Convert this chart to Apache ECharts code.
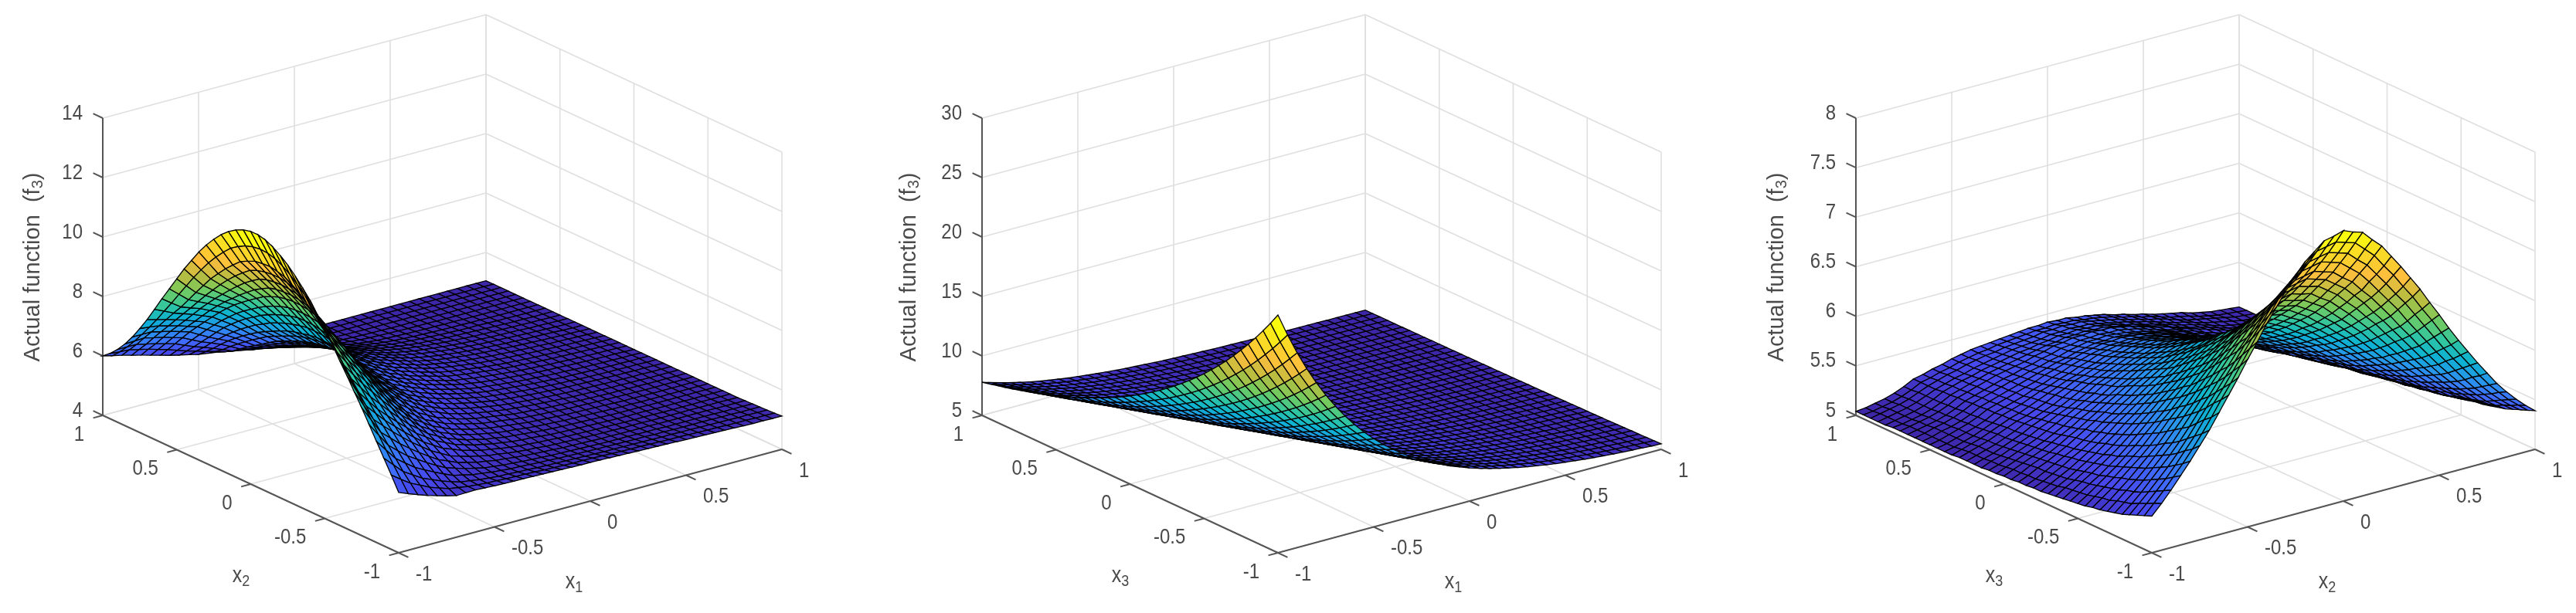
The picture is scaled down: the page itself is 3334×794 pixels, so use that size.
<!DOCTYPE html>
<html>
<head>
<meta charset="utf-8">
<style>html,body{margin:0;background:#fff}#main{width:3334px;height:794px;filter:blur(0.6px)}</style>
<script src="https://cdn.jsdelivr.net/npm/echarts@6/dist/echarts.min.js"></script>
</head>
<body>
<div id="main"></div>
<script>
// surface heights, in hundredths of f3
// rows = horizontal axis -1..1 step 0.05, columns = depth axis -1..1 step 0.05
const surfaceA = [
[603,650,695,740,785,830,872,915,955,998,1038,1075,1112,1142,1170,1195,1215,1232,1244,1250,1250,1244,1232,1215,1193,1166,1135,1100,1060,1020,975,930,885,838,792,750,710,675,645,620,600],
[590,627,664,702,741,780,817,855,892,931,968,1003,1038,1068,1097,1121,1143,1160,1173,1180,1182,1178,1170,1156,1139,1114,1086,1055,1020,983,943,903,862,823,783,746,710,676,645,617,592],
[578,605,633,665,698,730,762,796,830,864,898,932,965,995,1024,1048,1072,1088,1103,1110,1115,1113,1109,1098,1085,1062,1038,1010,981,947,912,876,840,808,775,742,710,678,645,615,585],
[567,590,613,641,671,702,732,762,792,825,857,889,920,948,975,999,1022,1040,1056,1064,1068,1068,1065,1058,1047,1027,1005,980,953,923,893,861,828,797,765,733,702,670,637,607,576],
[557,574,593,618,645,674,703,729,755,786,817,846,874,900,926,950,973,992,1009,1018,1022,1024,1022,1018,1009,992,973,950,926,900,874,846,817,786,755,725,695,663,630,600,568],
[548,563,580,601,625,650,676,701,725,753,781,808,835,860,884,907,928,946,963,972,978,981,980,977,970,956,941,921,900,877,854,829,802,773,743,714,685,653,621,590,559],
[540,552,566,585,605,627,650,673,696,720,745,770,796,820,843,864,883,900,917,927,935,938,939,936,931,921,909,892,874,855,835,812,787,760,732,704,675,644,612,581,550],
[541,547,555,570,587,606,627,647,668,689,711,733,756,778,799,819,837,852,867,877,885,889,891,890,887,879,869,856,841,824,806,786,763,739,713,686,657,628,598,570,541],
[542,542,545,556,570,586,604,622,640,659,678,697,716,736,755,774,791,805,818,828,835,840,844,845,844,838,830,820,808,794,777,760,740,718,695,668,640,613,585,559,533],
[540,539,541,549,560,573,587,603,619,635,651,667,683,701,718,735,750,763,774,785,793,797,801,802,802,797,790,782,772,760,745,730,712,693,672,650,625,600,574,550,526],
[538,536,536,541,550,559,570,584,597,610,623,636,650,665,681,695,709,720,730,741,750,754,757,759,760,756,750,744,736,725,712,699,685,668,650,631,610,587,562,540,518],
[537,535,533,537,543,551,560,572,583,593,604,616,628,641,655,667,680,689,698,707,715,721,725,728,730,727,723,717,709,699,687,675,662,645,628,610,591,571,549,531,513],
[536,533,530,532,535,542,550,559,568,576,585,595,605,617,628,639,650,658,665,673,680,687,693,697,700,698,695,689,682,673,662,650,638,622,605,589,572,554,535,521,508],
[536,532,529,529,531,537,543,551,558,565,573,581,590,600,610,620,629,636,643,650,656,663,669,673,676,676,675,670,664,656,646,635,623,609,594,578,562,546,529,517,507],
[535,531,527,526,527,531,536,542,548,554,560,567,575,583,592,600,608,614,620,626,632,638,644,648,652,654,655,650,645,638,630,619,608,595,582,567,552,537,522,513,505],
[534,530,526,525,525,528,532,537,542,547,552,558,565,572,580,587,594,600,606,612,617,622,627,631,635,636,637,634,630,623,615,606,595,584,571,558,544,530,517,511,505],
[533,528,524,523,522,524,527,531,535,539,544,549,555,561,567,573,580,586,592,597,602,606,610,614,617,618,619,617,614,608,600,592,582,572,560,548,535,523,512,508,505],
[532,527,523,521,520,521,523,526,530,534,538,543,548,553,558,564,570,575,581,586,590,594,598,601,604,605,605,604,601,596,589,581,572,562,551,540,528,519,510,507,505],
[531,526,522,520,518,519,520,522,525,528,532,536,540,545,550,555,560,565,570,574,578,582,585,588,590,591,592,590,588,583,578,571,563,553,543,533,522,515,508,506,505],
[530,525,521,518,516,517,518,520,522,525,528,532,536,540,544,548,553,557,561,565,569,572,575,578,580,581,582,580,578,574,569,562,555,546,536,527,518,512,507,505,505],
[530,525,520,517,515,515,515,517,520,522,525,528,532,535,538,542,546,549,553,556,560,563,566,568,570,571,572,570,568,564,560,554,547,539,530,522,515,510,506,505,505],
[529,524,519,516,514,513,513,515,517,519,521,524,527,530,533,536,540,543,546,549,552,554,557,559,561,561,562,561,559,555,552,546,540,533,525,518,512,508,505,505,505],
[528,523,518,515,513,512,512,513,514,516,518,520,523,525,528,531,534,536,539,541,544,546,548,550,552,552,553,552,550,547,544,539,533,527,520,515,510,507,505,505,505],
[527,522,517,514,512,511,511,511,512,514,516,518,520,522,525,527,530,532,534,536,539,541,543,544,546,546,546,545,544,541,538,533,528,522,516,512,508,506,505,505,505],
[526,521,517,514,511,510,510,510,511,512,514,516,518,520,522,524,526,528,530,532,534,536,538,539,540,540,540,539,538,535,532,528,523,518,513,510,507,506,505,505,505],
[525,520,516,513,510,509,509,509,510,511,512,514,516,517,519,521,523,525,527,528,530,532,534,535,535,535,535,534,533,531,528,524,520,515,511,509,506,505,505,505,505],
[524,520,516,513,510,509,508,508,509,510,511,512,514,515,517,518,520,522,524,525,527,528,530,530,531,531,531,530,529,527,524,520,517,513,510,508,506,505,505,505,505],
[523,519,515,512,510,508,508,508,508,509,510,511,512,513,515,516,518,519,521,522,524,525,526,526,527,527,527,526,525,523,521,518,515,511,509,507,505,505,505,505,505],
[522,518,515,512,509,508,507,507,507,508,509,510,511,512,513,514,516,517,518,519,521,522,523,523,524,524,524,523,522,520,518,515,513,510,508,506,505,505,505,505,505],
[521,517,514,511,509,508,507,506,506,507,508,509,510,510,511,512,514,515,516,517,518,519,520,520,521,521,521,520,519,517,516,513,511,509,507,506,505,505,505,505,505],
[520,517,514,511,509,508,507,506,506,506,507,508,509,509,510,511,512,513,514,515,516,517,518,518,519,519,519,518,517,515,514,512,510,508,507,506,505,505,505,505,505],
[519,516,513,510,508,507,506,506,506,506,506,507,508,508,509,510,511,512,512,513,514,515,516,516,517,517,517,516,515,514,512,511,509,507,506,505,505,505,505,505,505],
[518,515,513,510,508,507,506,506,506,506,506,506,507,507,508,509,510,510,511,512,513,513,514,514,515,515,515,514,514,512,511,510,508,507,506,505,505,505,505,505,505],
[517,514,512,510,508,507,506,505,505,505,505,506,506,507,507,508,509,509,510,510,511,512,512,513,513,513,513,513,512,511,510,509,508,506,505,505,505,505,505,505,505],
[516,514,512,510,508,507,506,505,505,505,505,505,506,506,507,507,508,508,509,509,510,510,511,511,512,512,512,511,511,510,509,508,507,506,505,505,505,505,505,505,505],
[515,513,511,510,508,507,506,505,505,505,505,505,505,506,506,507,507,507,508,508,509,509,510,510,510,510,510,510,509,509,508,507,506,505,505,505,505,505,505,505,505],
[514,512,511,509,508,507,506,505,505,505,505,505,505,505,506,506,507,507,507,507,508,508,509,509,509,509,509,509,508,507,507,506,506,505,505,505,505,505,505,505,505],
[513,512,510,509,507,506,506,505,505,505,505,505,505,505,505,506,506,506,507,507,507,507,508,508,508,508,508,508,507,507,506,506,505,505,505,505,505,505,505,505,505],
[513,511,510,508,507,506,506,505,505,505,505,505,505,505,505,505,506,506,506,506,507,507,507,507,507,507,507,506,506,506,506,505,505,505,505,505,505,505,505,505,505],
[512,511,509,508,507,506,505,505,505,505,505,505,505,505,505,505,505,505,506,506,506,506,506,506,506,506,506,505,505,505,505,505,505,505,505,505,505,505,505,505,505],
[512,510,509,508,507,506,505,505,505,505,505,505,505,505,505,505,505,505,505,505,505,505,505,505,505,505,505,505,505,505,505,505,505,505,505,505,505,505,505,505,505]
];
const surfaceB = [
[2500,2403,2311,2223,2139,2060,1984,1912,1844,1779,1717,1658,1602,1549,1498,1450,1404,1361,1319,1280,1242,1206,1172,1140,1109,1080,1052,1026,1001,977,954,932,912,892,874,856,839,823,808,793,779],
[2311,2223,2139,2060,1984,1912,1844,1779,1717,1658,1602,1549,1498,1450,1404,1361,1319,1280,1242,1206,1172,1140,1109,1080,1052,1026,1001,977,954,932,912,892,874,856,839,823,808,793,779,766,754],
[2139,2060,1984,1912,1844,1779,1717,1658,1602,1549,1498,1450,1404,1361,1319,1280,1242,1206,1172,1140,1109,1080,1052,1026,1001,977,954,932,912,892,874,856,839,823,808,793,779,766,754,742,731],
[1984,1912,1844,1779,1717,1658,1602,1549,1498,1450,1404,1361,1319,1280,1242,1206,1172,1140,1109,1080,1052,1026,1001,977,954,932,912,892,874,856,839,823,808,793,779,766,754,742,731,720,710],
[1844,1779,1717,1658,1602,1549,1498,1450,1404,1361,1319,1280,1242,1206,1172,1140,1109,1080,1052,1026,1001,977,954,932,912,892,874,856,839,823,808,793,779,766,754,742,731,720,710,700,691],
[1717,1658,1602,1549,1498,1450,1404,1361,1319,1280,1242,1206,1172,1140,1109,1080,1052,1026,1001,977,954,932,912,892,874,856,839,823,808,793,779,766,754,742,731,720,710,700,691,682,673],
[1602,1549,1498,1450,1404,1361,1319,1280,1242,1206,1172,1140,1109,1080,1052,1026,1001,977,954,932,912,892,874,856,839,823,808,793,779,766,754,742,731,720,710,700,691,682,673,665,658],
[1498,1450,1404,1361,1319,1280,1242,1206,1172,1140,1109,1080,1052,1026,1001,977,954,932,912,892,874,856,839,823,808,793,779,766,754,742,731,720,710,700,691,682,673,665,658,651,644],
[1404,1361,1319,1280,1242,1206,1172,1140,1109,1080,1052,1026,1001,977,954,932,912,892,874,856,839,823,808,793,779,766,754,742,731,720,710,700,691,682,673,665,658,651,644,637,631],
[1319,1280,1242,1206,1172,1140,1109,1080,1052,1026,1001,977,954,932,912,892,874,856,839,823,808,793,779,766,754,742,731,720,710,700,691,682,673,665,658,651,644,637,631,625,619],
[1242,1206,1172,1140,1109,1080,1052,1026,1001,977,954,932,912,892,874,856,839,823,808,793,779,766,754,742,731,720,710,700,691,682,673,665,658,651,644,637,631,625,619,614,609],
[1172,1140,1109,1080,1052,1026,1001,977,954,932,912,892,874,856,839,823,808,793,779,766,754,742,731,720,710,700,691,682,673,665,658,651,644,637,631,625,619,614,609,604,600],
[1109,1080,1052,1026,1001,977,954,932,912,892,874,856,839,823,808,793,779,766,754,742,731,720,710,700,691,682,673,665,658,651,644,637,631,625,619,614,609,604,600,595,591],
[1052,1026,1001,977,954,932,912,892,874,856,839,823,808,793,779,766,754,742,731,720,710,700,691,682,673,665,658,651,644,637,631,625,619,614,609,604,600,595,591,587,583],
[1001,977,954,932,912,892,874,856,839,823,808,793,779,766,754,742,731,720,710,700,691,682,673,665,658,651,644,637,631,625,619,614,609,604,600,595,591,587,583,579,576],
[954,932,912,892,874,856,839,823,808,793,779,766,754,742,731,720,710,700,691,682,673,665,658,651,644,637,631,625,619,614,609,604,600,595,591,587,583,579,576,572,569],
[912,892,874,856,839,823,808,793,779,766,754,742,731,720,710,700,691,682,673,665,658,651,644,637,631,625,619,614,609,604,600,595,591,587,583,579,576,572,569,566,564],
[874,856,839,823,808,793,779,766,754,742,731,720,710,700,691,682,673,665,658,651,644,637,631,625,619,614,609,604,600,595,591,587,583,579,576,572,569,566,564,561,559],
[839,823,808,793,779,766,754,742,731,720,710,700,691,682,673,665,658,651,644,637,631,625,619,614,609,604,600,595,591,587,583,579,576,572,569,566,564,561,559,556,554],
[808,793,779,766,754,742,731,720,710,700,691,682,673,665,658,651,644,637,631,625,619,614,609,604,600,595,591,587,583,579,576,572,569,566,564,561,559,556,554,551,549],
[779,766,754,742,731,720,710,700,691,682,673,665,658,651,644,637,631,625,619,614,609,604,600,595,591,587,583,579,576,572,569,566,564,561,559,556,554,551,549,547,546],
[754,742,731,720,710,700,691,682,673,665,658,651,644,637,631,625,619,614,609,604,600,595,591,587,583,579,576,572,569,566,564,561,559,556,554,551,549,547,546,544,543],
[731,720,710,700,691,682,673,665,658,651,644,637,631,625,619,614,609,604,600,595,591,587,583,579,576,572,569,566,564,561,559,556,554,551,549,547,546,544,543,541,540],
[710,700,691,682,673,665,658,651,644,637,631,625,619,614,609,604,600,595,591,587,583,579,576,572,569,566,564,561,559,556,554,551,549,547,546,544,543,541,540,538,537],
[691,682,673,665,658,651,644,637,631,625,619,614,609,604,600,595,591,587,583,579,576,572,569,566,564,561,559,556,554,551,549,547,546,544,543,541,540,538,537,535,534],
[673,665,658,651,644,637,631,625,619,614,609,604,600,595,591,587,583,579,576,572,569,566,564,561,559,556,554,551,549,547,546,544,543,541,540,538,537,535,534,533,532],
[658,651,644,637,631,625,619,614,609,604,600,595,591,587,583,579,576,572,569,566,564,561,559,556,554,551,549,547,546,544,543,541,540,538,537,535,534,533,532,531,530],
[644,637,631,625,619,614,609,604,600,595,591,587,583,579,576,572,569,566,564,561,559,556,554,551,549,547,546,544,543,541,540,538,537,535,534,533,532,531,530,529,528],
[631,625,619,614,609,604,600,595,591,587,583,579,576,572,569,566,564,561,559,556,554,551,549,547,546,544,543,541,540,538,537,535,534,533,532,531,530,529,528,527,526],
[619,614,609,604,600,595,591,587,583,579,576,572,569,566,564,561,559,556,554,551,549,547,546,544,543,541,540,538,537,535,534,533,532,531,530,529,528,527,526,525,525],
[609,604,600,595,591,587,583,579,576,572,569,566,564,561,559,556,554,551,549,547,546,544,543,541,540,538,537,535,534,533,532,531,530,529,528,527,526,525,525,524,523],
[600,595,591,587,583,579,576,572,569,566,564,561,559,556,554,551,549,547,546,544,543,541,540,538,537,535,534,533,532,531,530,529,528,527,526,525,525,524,523,523,522],
[591,587,583,579,576,572,569,566,564,561,559,556,554,551,549,547,546,544,543,541,540,538,537,535,534,533,532,531,530,529,528,527,526,525,525,524,523,523,522,521,521],
[583,579,576,572,569,566,564,561,559,556,554,551,549,547,546,544,543,541,540,538,537,535,534,533,532,531,530,529,528,527,526,525,525,524,523,523,522,521,521,520,520],
[576,572,569,566,564,561,559,556,554,551,549,547,546,544,543,541,540,538,537,535,534,533,532,531,530,529,528,527,526,525,525,524,523,523,522,521,521,520,520,519,519],
[569,566,564,561,559,556,554,551,549,547,546,544,543,541,540,538,537,535,534,533,532,531,530,529,528,527,526,525,525,524,523,523,522,521,521,520,520,519,519,518,518],
[564,561,559,556,554,551,549,547,546,544,543,541,540,538,537,535,534,533,532,531,530,529,528,527,526,525,525,524,523,523,522,521,521,520,520,519,519,518,518,518,517],
[559,556,554,551,549,547,546,544,543,541,540,538,537,535,534,533,532,531,530,529,528,527,526,525,525,524,523,523,522,521,521,520,520,519,519,518,518,518,517,517,517],
[554,551,549,547,546,544,543,541,540,538,537,535,534,533,532,531,530,529,528,527,526,525,525,524,523,523,522,521,521,520,520,519,519,518,518,518,517,517,517,516,516],
[549,547,546,544,543,541,540,538,537,535,534,533,532,531,530,529,528,527,526,525,525,524,523,523,522,521,521,520,520,519,519,518,518,518,517,517,517,516,516,516,516],
[546,544,543,541,540,538,537,535,534,533,532,531,530,529,528,527,526,525,525,524,523,523,522,521,521,520,520,519,519,518,518,518,517,517,517,516,516,516,516,515,515]
];
const surfaceC = [
[537,534,531,528,525,523,521,519,518,516,515,514,513,512,511,510,510,509,509,508,508,507,507,506,506,506,506,505,505,505,505,505,505,505,505,505,504,504,504,504,504],
[547,544,540,537,533,531,529,526,525,523,521,520,519,518,516,515,514,513,513,512,512,511,510,510,509,509,509,508,507,507,507,507,507,507,507,506,506,506,506,505,505],
[558,554,550,546,542,539,537,534,532,530,528,526,525,523,521,520,519,518,518,517,516,515,514,513,512,512,512,511,510,510,510,510,510,509,509,508,508,508,508,507,507],
[570,565,560,556,552,548,545,542,540,537,535,532,531,529,527,525,524,523,522,521,520,519,518,517,516,515,515,514,513,513,513,512,512,511,511,510,510,510,510,509,509],
[582,576,571,566,562,558,554,551,548,545,542,539,537,535,533,531,530,528,527,525,524,523,522,521,520,519,519,518,517,516,516,515,515,514,514,513,513,513,513,512,512],
[595,588,583,577,572,568,564,560,556,553,550,546,544,541,539,537,535,533,532,530,529,527,526,525,524,523,523,522,521,520,520,519,519,518,518,517,517,517,517,516,516],
[608,601,595,589,583,578,574,569,565,561,558,554,551,548,546,543,541,539,538,536,534,532,531,530,529,528,527,526,526,525,525,524,524,523,523,522,522,521,521,521,521],
[623,615,609,602,595,590,585,580,575,571,567,563,559,556,553,550,548,545,544,541,539,537,536,534,533,531,530,529,529,528,528,527,527,526,526,525,525,524,524,523,523],
[638,630,623,615,608,602,596,591,586,581,576,572,568,564,561,558,555,552,550,547,545,543,541,539,537,535,534,533,532,531,531,530,530,529,529,528,528,527,527,526,526],
[653,644,636,628,620,614,607,601,596,590,585,581,576,572,568,565,561,558,556,553,550,548,546,543,541,539,538,537,536,534,534,533,533,532,532,531,530,529,529,528,528],
[669,659,650,641,633,626,619,612,606,600,595,590,585,580,576,572,568,565,562,559,556,553,551,548,546,544,543,541,540,538,537,536,536,535,535,534,533,532,532,531,531],
[684,674,664,654,645,638,630,623,616,609,604,598,593,588,583,579,575,571,568,565,561,558,556,553,551,549,547,545,543,541,540,539,538,537,537,536,535,534,534,533,533],
[700,689,678,668,658,650,642,634,626,619,613,607,601,596,591,586,582,578,575,571,567,564,562,559,556,554,552,549,547,545,544,542,541,540,539,538,537,536,536,535,535],
[714,702,691,680,669,661,652,644,635,628,621,615,609,603,598,592,588,584,580,576,572,569,566,563,560,557,555,552,550,548,547,545,543,542,541,540,539,538,537,536,536],
[728,716,704,692,681,672,663,654,645,637,630,623,617,611,605,599,594,590,586,582,578,574,571,567,564,561,559,556,554,552,550,548,546,545,544,542,541,540,539,538,537],
[740,727,714,702,691,681,671,662,653,644,637,629,623,617,611,605,600,595,590,586,582,578,575,571,568,565,562,559,557,555,553,550,548,547,546,544,542,541,540,539,538],
[752,738,725,713,701,690,680,670,661,652,644,636,629,623,617,611,605,600,595,590,586,582,579,575,572,569,566,563,561,558,556,553,551,550,549,546,544,542,541,540,539],
[760,746,732,720,707,696,686,676,666,657,649,641,633,627,621,614,608,603,598,593,589,585,581,577,574,571,568,565,563,560,558,555,553,551,550,547,545,543,542,541,540],
[768,754,740,727,714,703,693,682,672,663,654,646,638,631,625,618,612,607,602,597,592,588,584,580,577,574,571,568,565,562,560,557,555,553,552,549,547,545,544,542,541],
[770,756,742,729,716,705,694,683,673,664,655,647,639,632,626,619,613,608,603,598,593,589,585,581,577,574,571,568,565,562,560,557,555,553,552,549,547,545,544,542,541],
[773,758,744,731,718,707,696,685,675,666,657,649,641,634,627,620,614,609,604,599,594,590,586,582,578,575,572,569,566,563,561,558,556,554,553,550,548,546,545,543,542],
[769,755,741,728,715,704,693,682,672,663,655,647,639,632,625,618,612,607,602,597,592,588,585,581,577,574,571,568,565,562,560,557,555,553,552,549,547,545,544,542,541],
[766,752,738,725,712,701,691,680,670,661,653,645,637,630,624,617,611,606,601,596,591,587,584,580,576,573,570,567,564,561,559,556,554,553,552,549,547,545,544,542,541],
[756,743,729,717,704,694,684,673,664,655,647,639,632,625,619,612,607,602,597,592,588,584,580,576,573,570,567,564,561,559,557,554,552,551,550,547,545,543,542,540,539],
[747,734,721,709,697,687,677,667,658,649,641,634,627,620,614,608,603,598,594,589,585,581,577,573,570,567,565,562,559,557,555,552,550,549,548,545,543,541,540,539,538],
[734,721,709,698,686,677,667,658,649,641,633,626,620,613,607,602,597,592,588,584,580,576,573,569,566,563,561,558,556,554,552,549,547,546,545,542,540,539,538,537,536],
[721,709,697,686,676,667,658,649,640,633,626,619,613,607,601,596,591,587,583,579,575,572,569,565,562,559,557,555,553,551,549,547,545,543,542,540,538,537,536,535,534],
[707,695,684,674,664,655,647,639,631,624,617,611,605,600,594,589,585,581,577,573,570,567,564,560,558,555,553,551,549,547,545,543,542,540,539,537,535,534,533,532,531],
[693,682,672,662,652,644,637,629,622,615,609,603,597,592,588,583,579,575,572,568,565,562,559,556,554,552,550,547,545,543,542,540,539,538,537,535,533,532,531,530,529],
[677,667,658,648,639,632,625,618,611,605,599,594,589,584,580,575,572,568,565,562,559,556,554,551,549,547,545,543,541,539,538,536,535,534,533,531,530,529,528,527,526],
[662,653,644,635,627,620,614,607,601,595,590,585,581,576,572,568,565,562,559,556,554,551,549,546,544,542,541,539,537,536,535,533,532,531,530,528,527,526,526,525,524],
[646,638,630,622,614,608,602,596,591,585,581,576,572,568,564,561,558,555,553,550,548,545,544,541,539,537,536,534,533,532,531,529,528,527,527,525,524,523,523,522,521],
[631,623,616,609,602,596,591,586,581,576,572,568,564,560,557,554,552,549,547,544,542,540,539,537,535,533,532,530,529,528,527,526,525,524,524,523,522,521,520,519,519],
[617,610,603,597,590,585,580,576,571,567,563,560,556,553,550,547,545,543,541,539,537,535,534,532,530,529,528,526,525,524,524,523,522,521,521,520,519,518,517,517,517],
[603,597,591,585,579,574,570,566,562,558,555,552,549,546,543,541,539,537,536,534,532,530,529,527,526,525,524,523,522,521,521,520,519,518,518,517,516,515,515,515,515],
[590,584,579,573,568,564,560,557,553,550,547,544,542,539,537,535,533,531,530,529,527,525,524,523,522,521,520,519,518,518,518,517,516,515,515,514,513,513,513,512,512],
[577,572,567,562,558,554,551,548,545,542,539,537,535,533,531,529,528,526,525,524,523,521,520,519,518,517,517,516,515,515,515,514,514,513,513,512,511,511,511,510,510],
[566,562,557,553,549,546,543,540,538,535,532,530,529,527,525,524,523,521,521,520,519,517,516,515,515,514,514,513,512,512,512,511,511,511,511,510,509,509,509,508,508],
[556,552,548,544,540,537,535,533,531,528,526,524,523,521,520,518,518,517,517,516,515,514,513,512,512,511,511,510,510,509,509,509,509,509,509,508,508,507,507,507,507],
[547,544,540,537,533,531,529,527,525,523,521,519,518,517,516,514,514,513,513,512,512,511,510,509,509,509,509,508,508,507,507,507,507,507,507,506,506,506,506,506,506],
[539,536,533,530,527,525,523,521,520,518,516,515,514,513,512,511,511,510,510,509,509,508,508,507,507,507,507,506,506,506,506,506,506,505,505,505,505,505,505,505,505]
];
const axisTicks = [-1, -0.5, 0, 0.5, 1];
const zTicksA = [4, 6, 8, 10, 12, 14];
const zTicksB = [5, 10, 15, 20, 25, 30];
const zTicksC = [5, 5.5, 6, 6.5, 7, 7.5, 8];

const parula = [[62,38,168],[71,71,235],[62,111,255],[39,150,235],[12,178,210],[49,198,159],[113,203,95],[183,189,64],[253,189,61],[250,215,40],[249,251,14]];
const fontName = '"Liberation Sans", Arial, sans-serif';
const textColor = '#4a4a4a';

// each panel sits in its own grid, its hidden axes count in pixels
const panels = [
  {left: 0, width: 1111, corner: 133, z: surfaceA, zTicks: zTicksA, nameX: '1', nameY: '2', yLabelGap: 90},
  {left: 1111, width: 1111, corner: 160, z: surfaceB, zTicks: zTicksB, nameX: '1', nameY: '3', yLabelGap: 94},
  {left: 2222, width: 1112, corner: 180, z: surfaceC, zTicks: zTicksC, nameX: '2', nameY: '3', yLabelGap: 102}
];

function project(p, x, y, z) {
  const a = x + 1, b = y + 1;
  const z0 = p.zTicks[0], z1 = p.zTicks[p.zTicks.length - 1];
  return [p.corner + 383 + a * 248 - b * 191.5, 716 - a * 67 - b * 89 - (z - z0) * 385 / (z1 - z0)];
}

function colorOf(t) {
  const f = Math.max(0, Math.min(0.9999, t)) * (parula.length - 1);
  const k = Math.floor(f), r = f - k;
  const c = parula[k].map((v, n) => Math.round(v + (parula[k + 1][n] - v) * r));
  return 'rgb(' + c.join(',') + ')';
}

function frameSegments(p) {
  const z0 = p.zTicks[0], z1 = p.zTicks[p.zTicks.length - 1];
  const segs = [];
  const grid = (a, b) => segs.push([...a, ...b, 0]);
  const axis = (a, b) => segs.push([...a, ...b, 1]);
  const P = (x, y, z) => project(p, x, y, z);
  axisTicks.forEach(t => {
    grid(P(t, -1, z0), P(t, 1, z0));
    grid(P(-1, t, z0), P(1, t, z0));
    grid(P(t, 1, z0), P(t, 1, z1));
    grid(P(1, t, z0), P(1, t, z1));
  });
  p.zTicks.forEach(t => {
    grid(P(-1, 1, t), P(1, 1, t));
    grid(P(1, 1, t), P(1, -1, t));
  });
  axis(P(-1, 1, z0), P(-1, 1, z1));
  axis(P(-1, 1, z0), P(-1, -1, z0));
  axis(P(-1, -1, z0), P(1, -1, z0));
  axisTicks.forEach(t => {
    axis(P(t, -1, z0), P(t, -1.065, z0));
    axis(P(-1, t, z0), P(-1.05, t, z0));
  });
  p.zTicks.forEach(t => axis(P(-1, 1, t), P(-1, 1.065, t)));
  return segs;
}

function labelItems(p) {
  const z0 = p.zTicks[0], items = [];
  p.zTicks.forEach(t => {
    const q = project(p, -1, 1, t);
    items.push({x: q[0] - 26, y: q[1] - 6, text: String(t), align: 'right', tall: true});
  });
  axisTicks.forEach(t => {
    const q = project(p, t, -1, z0), r = project(p, -1, t, z0);
    items.push({x: q[0] + 22, y: q[1] + 28, text: String(t), align: 'left', tall: true});
    items.push({x: r[0] - 24, y: r[1] + 25, text: String(t), align: 'right', tall: true});
  });
  items.push({x: p.corner + 610, y: 754, text: '{v|x}{s|' + p.nameX + '}', align: 'center', tall: true});
  items.push({x: p.corner + 179, y: 746, text: '{v|x}{s|' + p.nameY + '}', align: 'center', tall: true});
  items.push({x: p.corner - p.yLabelGap, y: 346, text: '{a|Actual function  (f}{b|3}{a|)}', align: 'center', rotate: true});
  return items;
}

const grids = [], xAxes = [], yAxes = [], series = [];
panels.forEach((p, idx) => {
  grids.push({left: p.left, top: 0, width: p.width, height: 794});
  xAxes.push({type: 'value', gridIndex: idx, min: 0, max: p.width, show: false});
  yAxes.push({type: 'value', gridIndex: idx, min: 0, max: 794, inverse: true, show: false});
  const base = {type: 'custom', xAxisIndex: idx, yAxisIndex: idx, silent: true, animation: false, clip: false};

  series.push(Object.assign({}, base, {
    data: frameSegments(p),
    renderItem(params, api) {
      const a = api.coord([api.value(0), api.value(1)]), b = api.coord([api.value(2), api.value(3)]);
      const isAxis = api.value(4) === 1;
      return {type: 'line', shape: {x1: a[0], y1: a[1], x2: b[0], y2: b[1]},
        style: {stroke: isAxis ? '#555' : '#dfdfdf', lineWidth: isAxis ? 2 : 1.6}};
    }
  }));

  const heights = p.z.map(r => r.map(v => v / 100));
  const n = heights.length - 1, zs = heights.flat();
  const lo = Math.min(...zs), hi = Math.max(...zs);
  const cells = [];
  for (let i = n - 1; i >= 0; i--) for (let j = n - 1; j >= 0; j--) cells.push([i, j]);
  series.push(Object.assign({}, base, {
    data: cells,
    renderItem(params, api) {
      const i = api.value(0), j = api.value(1);
      const pts = [[i, j], [i + 1, j], [i + 1, j + 1], [i, j + 1]].map(c =>
        api.coord(project(p, c[0] * 2 / n - 1, c[1] * 2 / n - 1, heights[c[0]][c[1]])));
      return {type: 'polygon', shape: {points: pts},
        style: {fill: colorOf((heights[i][j] - lo) / (hi - lo)), stroke: '#000', lineWidth: 1.3}};
    }
  }));

  const labels = labelItems(p);
  series.push(Object.assign({}, base, {
    data: labels.map((l, k) => [l.x, l.y, k]),
    renderItem(params, api) {
      const l = labels[api.value(2)];
      const c = api.coord([api.value(0), api.value(1)]);
      return {type: 'text', x: c[0], y: c[1], rotation: l.rotate ? Math.PI / 2 : 0, scaleY: l.tall ? 1.15 : 1,
        style: {text: l.text, fill: textColor, fontSize: 24, fontFamily: fontName, align: l.align, verticalAlign: 'middle',
          rich: {
            v: {font: '25px ' + fontName, fill: textColor},
            s: {font: '18px ' + fontName, fill: textColor, padding: [12, 0, 0, 0]},
            a: {font: '29px ' + fontName, fill: textColor},
            b: {font: '20px ' + fontName, fill: textColor, padding: [12, 0, 0, 0]}
          }}};
    }
  }));
});

const chart = echarts.init(document.getElementById('main'), null, {renderer: 'canvas'});
chart.setOption({backgroundColor: '#fff', animation: false, grid: grids, xAxis: xAxes, yAxis: yAxes, series});
</script>
</body>
</html>
